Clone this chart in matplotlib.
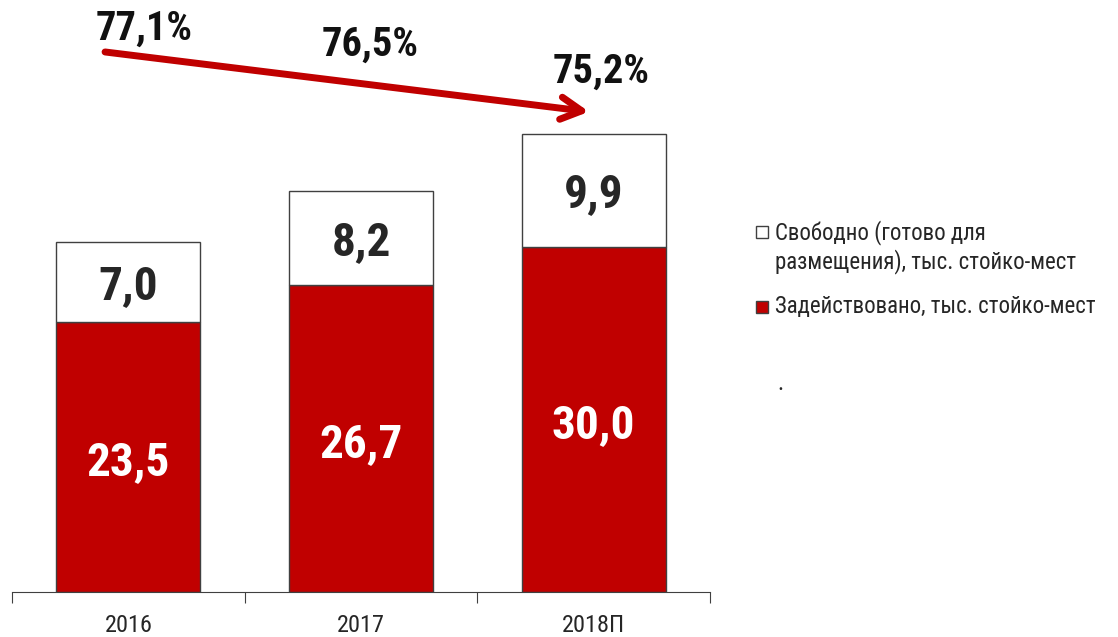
import os
import matplotlib
matplotlib.use("Agg")
from matplotlib import pyplot as plt
from matplotlib import font_manager as fm
from matplotlib.patches import Rectangle

years = ["2016", "2017", "2018П"]
used = [23.5, 26.7, 30.0]
free = [7.0, 8.2, 9.9]
share = ["77,1%", "76,5%", "75,2%"]
legend_free = "Свободно (готово для\nразмещения), тыс. стойко-мест"
legend_used = "Задействовано, тыс. стойко-мест"

RED = "#C00000"
GREY = "#262626"


def narrow_font(bold):
    # look for an Arial Narrow like face, fall back to the default font
    best = None
    best_score = -1
    for f in fm.fontManager.ttflist:
        n = (f.name + " " + os.path.basename(f.fname)).lower()
        if "italic" in n or "oblique" in n or f.style != "normal":
            continue
        if "narrow" not in n and "condensed" not in n:
            continue
        if "extra" in n or "ultra" in n or "semi" in n:
            continue
        w = f.weight if isinstance(f.weight, int) else fm.weight_dict.get(f.weight, 400)
        if bold != (w >= 600):
            continue
        if bold and w > 750:
            continue
        score = 1
        if "liberation" in n:
            score = 5
        elif "roboto" in n:
            score = 4
        elif "dejavu" in n:
            score = 3
        elif "noto sans" in n or "notosans" in n:
            score = 2
        if score > best_score:
            best, best_score = f.fname, score
    if best is None:
        return fm.FontProperties(family="DejaVu Sans", weight="bold" if bold else "normal")
    return fm.FontProperties(fname=best)


reg = narrow_font(False)
bld = narrow_font(True)

fig = plt.figure(figsize=(11.18, 6.37), dpi=100)
# axes box in pixels: x 12..710, y 10..592
ax = fig.add_axes([12 / 1118, 45 / 637, 698 / 1118, 582 / 637])

x = range(len(years))
ax.bar(x, used, width=0.62, color=RED, edgecolor="#404040", linewidth=1)
ax.bar(x, free, width=0.62, bottom=used, color="white", edgecolor="#404040", linewidth=1)

for i in x:
    t = ax.annotate("{:.1f}".format(used[i]).replace(".", ","), (i, used[i] / 2), xytext=(0, -5),
                    textcoords="offset pixels", ha="center", va="center", color="white",
                    fontproperties=bld)
    t.set_fontsize(34)
    t = ax.annotate("{:.1f}".format(free[i]).replace(".", ","), (i, used[i] + free[i] / 2),
                    xytext=(0, -4), textcoords="offset pixels", ha="center", va="center",
                    color=GREY, fontproperties=bld)
    t.set_fontsize(34)

label_pos = [(0.07, 49.0), (1.04, 47.6), (2.03, 45.3)]
for s, (lx, ly) in zip(share, label_pos):
    t = ax.text(lx, ly, s, ha="center", va="center", color="#111111", clip_on=False,
                fontproperties=bld)
    t.set_fontsize(29)

ax.annotate("", xy=(1.98, 41.8), xytext=(-0.1, 47.0),
            arrowprops=dict(arrowstyle="->,head_length=1.5,head_width=0.8", color=RED, lw=5,
                            shrinkA=0, shrinkB=0),
            annotation_clip=False)

ax.set_xlim(-0.5, 2.5)
ax.set_ylim(0, 582 / 11.49)
for side in ["top", "right", "left"]:
    ax.spines[side].set_visible(False)
ax.spines["bottom"].set_color("#404040")
ax.set_yticks([])
ax.set_xticks([-0.5, 0.5, 1.5, 2.5])
ax.set_xticklabels([])
ax.tick_params(axis="x", length=8, color="#404040", direction="out")
ax.set_xticks(list(x), years, minor=True)
ax.tick_params(axis="x", which="minor", length=0, pad=16, labelcolor=GREY)
for lab in ax.get_xticklabels(minor=True):
    lab.set_fontproperties(reg)
    lab.set_fontsize(17.5)

# legend drawn by hand
fig.patches.append(Rectangle((756 / 1118, 1 - 238 / 637), 12 / 1118, 12 / 637, transform=fig.transFigure,
                             facecolor="white", edgecolor="#404040", linewidth=1))
t = fig.text(775 / 1118, 1 - 247 / 637, legend_free, ha="left", va="center", color=GREY,
             linespacing=1.25, fontproperties=reg)
t.set_fontsize(16.5)
fig.patches.append(Rectangle((756 / 1118, 1 - 313 / 637), 12 / 1118, 12 / 637, transform=fig.transFigure,
                             facecolor=RED, edgecolor="#404040", linewidth=1))
t = fig.text(775 / 1118, 1 - 307 / 637, legend_used, ha="left", va="center", color=GREY,
             fontproperties=reg)
t.set_fontsize(16.5)
t = fig.text(777 / 1118, 1 - 383 / 637, ".", ha="left", va="center", color=GREY, fontproperties=reg)
t.set_fontsize(16.5)

fig.savefig("out.png", dpi=100)
